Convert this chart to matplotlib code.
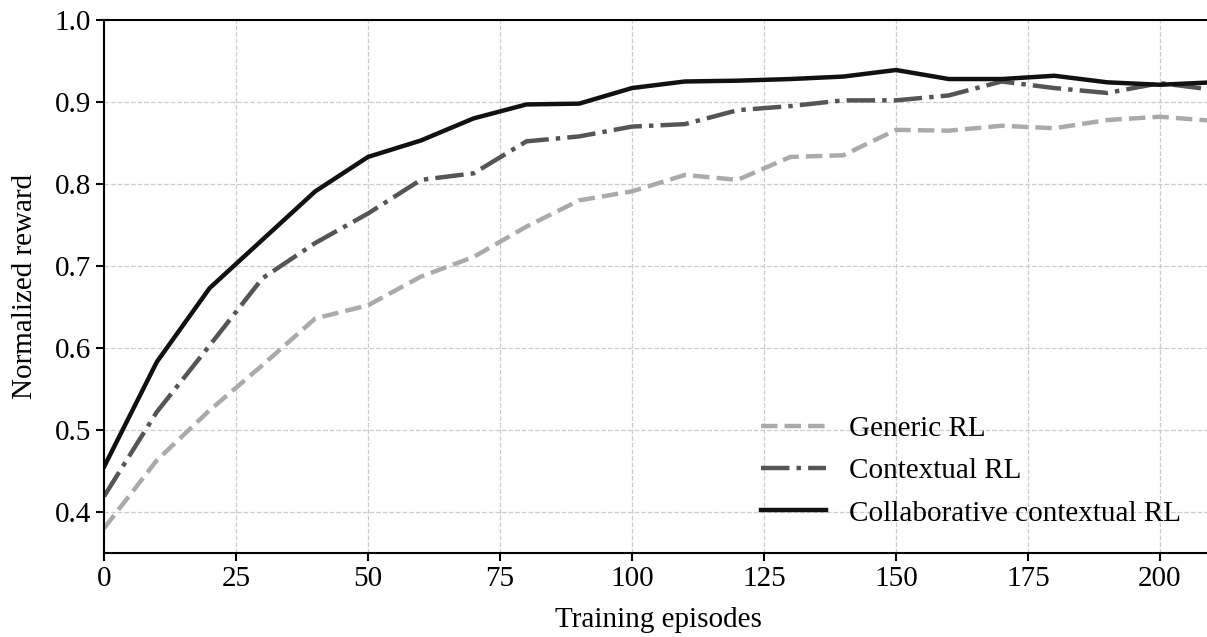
import numpy as np
import matplotlib.pyplot as plt

plt.rcParams['font.family'] = ['Liberation Serif', 'DejaVu Serif']

episodes = np.arange(0, 220, 10)

generic_rl = [0.380, 0.463, 0.524, 0.579, 0.636, 0.652, 0.687, 0.711, 0.748, 0.780,
              0.791, 0.811, 0.805, 0.833, 0.835, 0.866, 0.865, 0.871, 0.868, 0.878,
              0.882, 0.877]
contextual_rl = [0.419, 0.522, 0.603, 0.685, 0.728, 0.764, 0.805, 0.813, 0.852, 0.858,
                 0.870, 0.873, 0.890, 0.895, 0.902, 0.902, 0.908, 0.925, 0.917, 0.911,
                 0.923, 0.915]
collab_rl = [0.455, 0.583, 0.673, 0.732, 0.791, 0.833, 0.853, 0.880, 0.897, 0.898,
             0.917, 0.925, 0.926, 0.928, 0.931, 0.939, 0.928, 0.928, 0.932, 0.924,
             0.921, 0.924]

fig = plt.figure(figsize=(12.07, 6.37), dpi=100)
ax = fig.add_axes([0.0862, 0.132, 0.9186, 0.8366])

ax.plot(episodes, generic_rl, color='#aaaaaa', linestyle='--', lw=3.2, label='Generic RL')
ax.plot(episodes, contextual_rl, color='#555555', linestyle='-.', lw=3.2, label='Contextual RL')
ax.plot(episodes, collab_rl, color='#111111', linestyle='-', lw=3.2,
        label='Collaborative contextual RL')

ax.set_xlim(0, 210)
ax.set_ylim(0.35, 1.0)
ax.set_xticks(np.arange(0, 201, 25))
ax.set_yticks(np.arange(0.4, 1.01, 0.1))
ax.set_yticklabels(['0.4', '0.5', '0.6', '0.7', '0.8', '0.9', '1.0'])

ax.grid(True, linestyle='--', color='#cccccc', lw=0.9)
ax.set_axisbelow(True)
for s in ax.spines.values():
    s.set_linewidth(1.5)
ax.tick_params(direction='out', length=6, width=1.5, labelsize=21)

ax.set_xlabel('Training episodes', fontsize=21, labelpad=11)
ax.set_ylabel('Normalized reward', fontsize=21, labelpad=12)

ax.legend(loc='lower right', frameon=False, fontsize=21, handlelength=2.2,
          bbox_to_anchor=(0.995, 0.0), borderaxespad=0.5, labelspacing=0.55)

fig.savefig('out.png', dpi=100)
